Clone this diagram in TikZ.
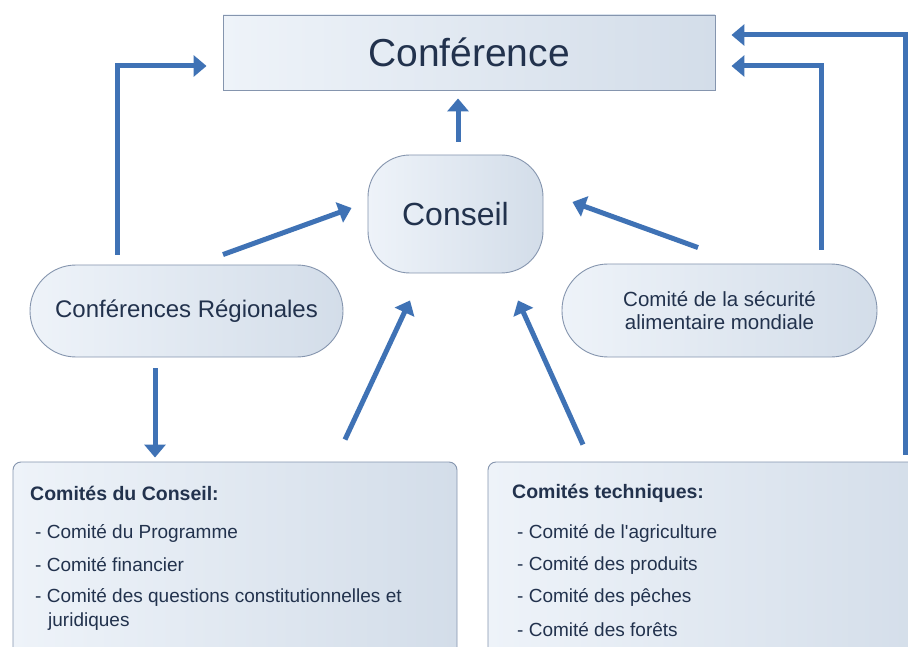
\documentclass[tikz,border=0pt]{standalone}
\usepackage{fontspec}
\setmainfont{Liberation Sans}
\usetikzlibrary{arrows.meta,calc}
\definecolor{arrowblue}{HTML}{3F72B5}
\definecolor{boxlight}{HTML}{EEF3F9}
\definecolor{boxdark}{HTML}{D3DDE9}
\definecolor{boxedge}{HTML}{8595AE}
\definecolor{txt}{HTML}{22324D}
\tikzset{
  arr/.style={draw=arrowblue, line width=5pt, -{Triangle[length=13pt,width=21pt]}},
  box/.style={draw=boxedge, line width=0.9pt, left color=boxlight, right color=boxdark, inner sep=0pt, text=txt},
  lbl/.style={anchor=west, inner sep=0pt, text=txt, font=\fontsize{19}{22}\selectfont},
  hdr/.style={anchor=west, inner sep=0pt, text=txt, font=\fontsize{19.5}{22}\selectfont\bfseries},
}
\begin{document}
\begin{tikzpicture}[x=1pt,y=-1pt]
\useasboundingbox (0,0) rectangle (908,647);
\clip (0,0) rectangle (908,647);
\fill[white] (0,0) rectangle (908,647);
% nodes
\node[box, minimum width=492pt, minimum height=75pt, font=\fontsize{39}{44}\selectfont] (conf) at (469,52.5) {Conférence};
\node[box, minimum width=175pt, minimum height=118pt, rounded corners=42pt, font=\fontsize{32}{38}\selectfont] (conseil) at (455.5,214) {Conseil};
\node[box, minimum width=313pt, minimum height=92pt, rounded corners=46pt, font=\fontsize{24}{28}\selectfont] (reg) at (186.5,311) {Conférences Régionales};
\node[box, minimum width=315pt, minimum height=93pt, rounded corners=46pt, align=center, font=\fontsize{20.5}{23}\selectfont] (secu) at (719.5,310.5) {Comité de la sécurité\\alimentaire mondiale};
\node[box, minimum width=444pt, minimum height=208pt, rounded corners=8pt] (cc) at (235,566) {};
\node[box, minimum width=452pt, minimum height=208pt, rounded corners=8pt] (ct) at (714,566) {};
% texts in lower boxes
\node[hdr] (cch) at (30,493) {Comités du Conseil:};
\node[lbl] (cc1) at (35,533) {- Comité du Programme};
\node[lbl] (cc2) at (35,565) {- Comité financier};
\node[lbl] (cc3) at (35,597) {- Comité des questions constitutionnelles et};
\node[lbl] (cc4) at (48,622) {juridiques};
\node[hdr] (cth) at (512,493) {Comités techniques:};
\node[lbl] (ct1) at (517,533) {- Comité de l\textquotesingle agriculture};
\node[lbl] (ct2) at (517,565) {- Comité des produits};
\node[lbl] (ct3) at (517,597) {- Comité des pêches};
\node[lbl] (ct4) at (517,630) {- Comité des forêts};
% connector end points
\coordinate (a1s) at ($(reg.north)+(-69.5,-10)$);
\coordinate (a1e) at ($(conf.west)+(-16,13.5)$);
\coordinate (a2s) at ($(conseil.north)+(2.5,-13)$);
\coordinate (a2e) at ($(conf.south)+(-11,8)$);
\coordinate (a3s) at ($(reg.north)+(36.5,-10)$);
\coordinate (a3e) at ($(conseil.west)+(-16,-6)$);
\coordinate (a4s) at ($(secu.north)+(-21.5,-16)$);
\coordinate (a4e) at ($(conseil.east)+(29,-12)$);
\coordinate (a5s) at ($(secu.north)+(101.5,-14)$);
\coordinate (a5e) at ($(conf.east)+(16,13.5)$);
\coordinate (a6s) at ($(ct.north)+(191,-7)$);
\coordinate (a6e) at ($(conf.east)+(16,-17.5)$);
\coordinate (a7s) at ($(reg.south)+(-31.5,11)$);
\coordinate (a7e) at ($(cc.north)+(-80,-4)$);
\coordinate (a8s) at ($(cc.north)+(110,-22)$);
\coordinate (a8e) at ($(conseil.south)+(-45.5,27)$);
\coordinate (a9s) at ($(ct.north)+(-131,-17)$);
\coordinate (a9e) at ($(conseil.south)+(62.5,27)$);
% connectors
\draw[arr] (a1s) |- (a1e);
\draw[arr] (a2s) -- (a2e);
\draw[arr] (a3s) -- (a3e);
\draw[arr] (a4s) -- (a4e);
\draw[arr] (a5s) |- (a5e);
\draw[arr] (a6s) |- (a6e);
\draw[arr] (a7s) -- (a7e);
\draw[arr] (a8s) -- (a8e);
\draw[arr] (a9s) -- (a9e);
\end{tikzpicture}
\end{document}
